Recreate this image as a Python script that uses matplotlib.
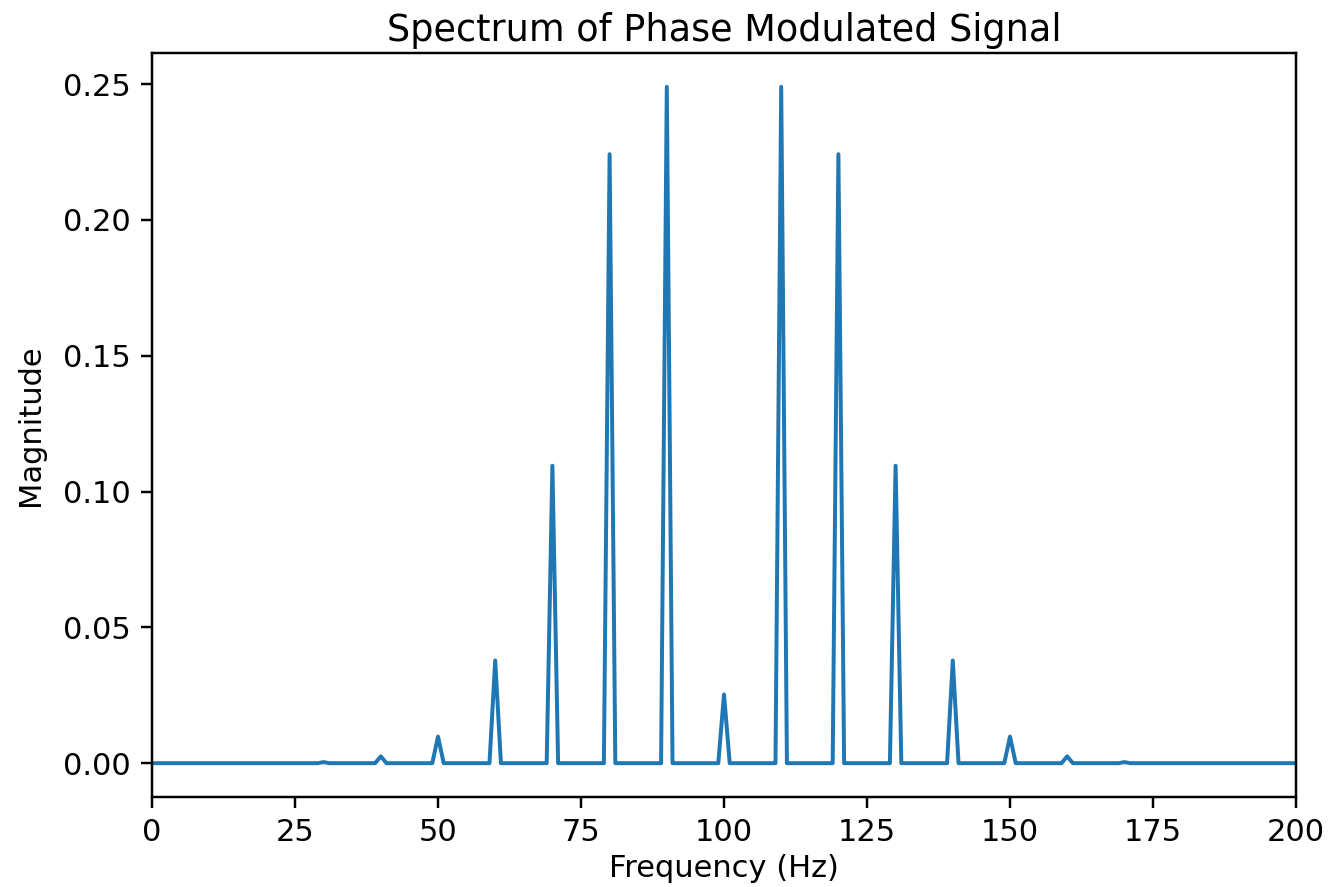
import numpy as np
import matplotlib.pyplot as plt

# peak frequencies (Hz) and magnitudes
peak_freqs = [30, 40, 50, 60, 70, 80, 90, 100, 110, 120, 130, 140, 150, 160, 170]
peak_mags = [0.0004, 0.0025, 0.0098, 0.0378, 0.1095, 0.2242, 0.2490, 0.0253,
             0.2490, 0.2242, 0.1095, 0.0378, 0.0098, 0.0025, 0.0004]

# 1 Hz frequency bins, zero everywhere except the peaks
freqs = np.arange(0, 201)
mags = np.zeros(len(freqs))
for f, m in zip(peak_freqs, peak_mags):
    mags[freqs == f] = m

fig = plt.figure(figsize=(1335 / 220, 887 / 220), dpi=220)
ax = fig.add_axes([152 / 1335, 1 - 797 / 887, (1296 - 152) / 1335, (797 - 53) / 887])

ax.plot(freqs, mags, linewidth=1.3)
ax.set_xlim(0, 200)
ax.set_title('Spectrum of Phase Modulated Signal', pad=4)
ax.set_xlabel('Frequency (Hz)', labelpad=2)
ax.set_ylabel('Magnitude', labelpad=6)

fig.savefig('out.png', dpi=220)
